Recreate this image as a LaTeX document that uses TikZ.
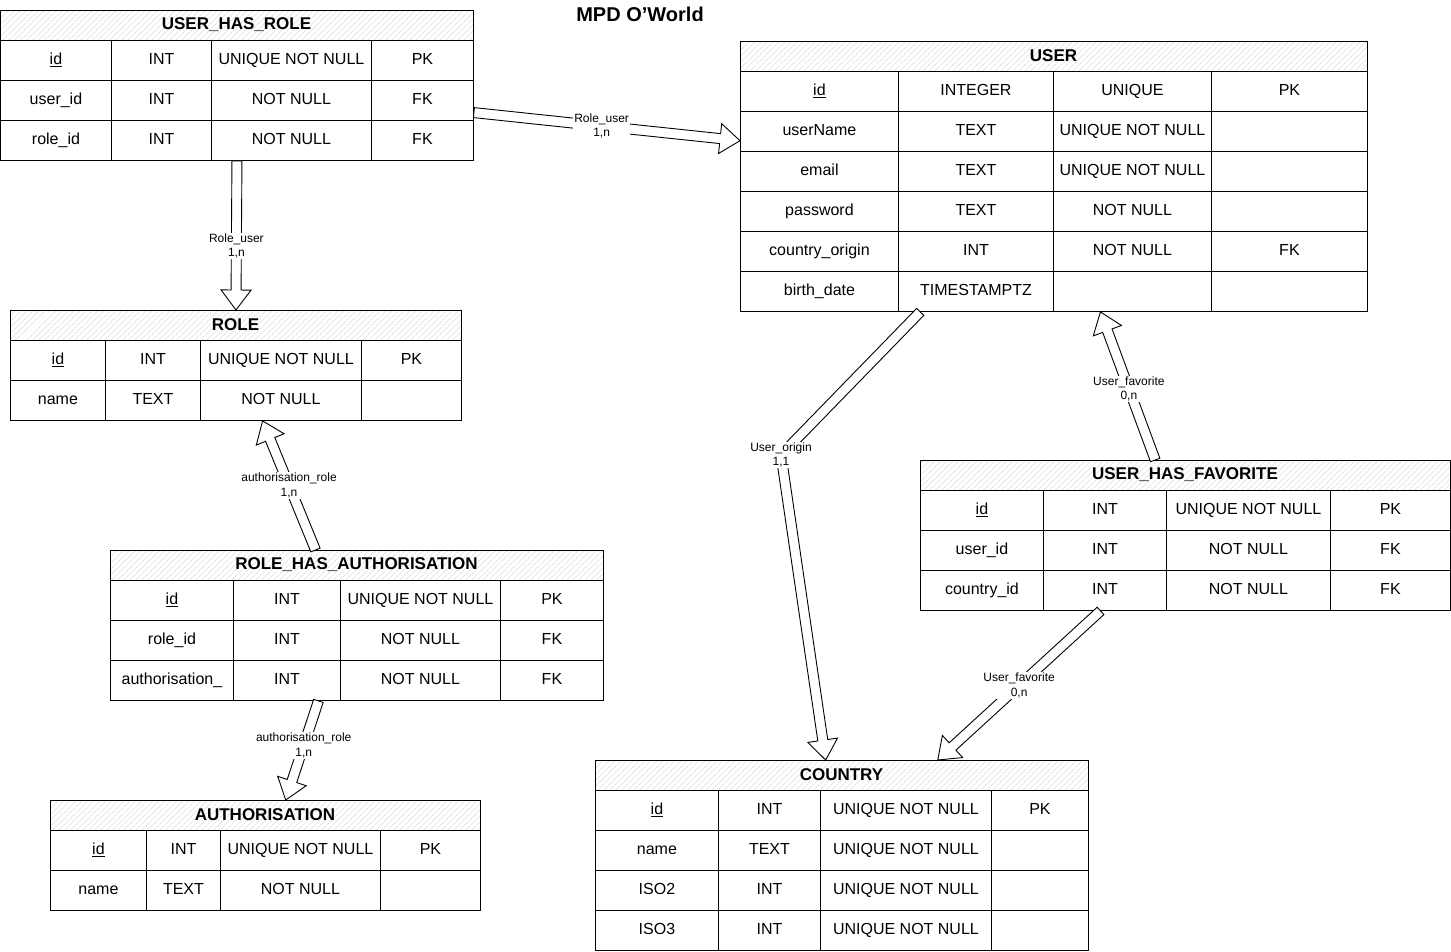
\documentclass[tikz,border=0pt]{standalone}
\usepackage{fontspec}
\setmainfont{Liberation Sans}
\usetikzlibrary{matrix,calc,fit,patterns.meta}
\newcommand\flexarr[2]{%
  \coordinate (fh) at ($(#2)!20pt!(#1)$);
  \draw[farrow] ($(#1)!5pt!90:(#2)$) -- ($(fh)!5pt!90:(#2)$) -- ($(fh)!15pt!90:(#2)$) -- (#2)
     -- ($(fh)!15pt!-90:(#2)$) -- ($(fh)!5pt!-90:(#2)$) -- ($(#1)!5pt!-90:(#2)$) -- cycle;}
\newcommand\flexshaft[2]{%
  \draw[farrow] ($(#1)!5pt!90:(#2)$) -- ($(#2)!5pt!-90:(#1)$) -- ($(#2)!5pt!90:(#1)$) -- ($(#1)!5pt!-90:(#2)$) -- cycle;}
\begin{document}
\begin{tikzpicture}[x=1pt,y=-1pt,
  cell/.style={draw, line width=0.9pt, anchor=center, minimum height=40, text height=12pt, text depth=3pt, inner sep=1pt, outer sep=0pt, font=\fontsize{16}{18}\selectfont},
  tbl/.style={matrix of nodes, nodes in empty cells, row sep=-0.9pt, column sep=-0.9pt, inner sep=0pt, outer sep=0pt, anchor=north west, nodes={cell}},
  cw/.style n args={4}{column 1/.style={nodes={minimum width=#1}}, column 2/.style={nodes={minimum width=#2}}, column 3/.style={nodes={minimum width=#3}}, column 4/.style={nodes={minimum width=#4}}},
  hdr/.style={draw, line width=0.9pt, anchor=south west, minimum height=30, inner sep=0pt, outer sep=0pt, font=\fontsize{17}{19}\selectfont\bfseries, pattern={Lines[angle=45,distance=4pt,line width=0.5pt]}, pattern color=black!18},
  farrow/.style={draw, fill=white, line width=0.9pt, line join=miter},
  lbl/.style={fill=white, font=\fontsize{12}{14.5}\selectfont, align=center, inner sep=1pt},
  tfit/.style={inner sep=0pt, outer sep=0pt}
]
\path[use as bounding box, fill=white] (0,0) rectangle (1451,951);

\node[font=\fontsize{20}{22}\selectfont\bfseries] (title) at (640,14) {MPD O'World};

% USER_HAS_ROLE
\matrix (uhr) [tbl, cw={111}{100}{160}{102}] at (0,40) {
  \underline{id} & INT & UNIQUE NOT NULL & PK \\
  user\_id & INT & NOT NULL & FK \\
  role\_id & INT & NOT NULL & FK \\
};
\node[hdr, minimum width=473] (uhr-h) at (uhr.north west) {USER\_HAS\_ROLE};
\node[tfit, fit=(uhr-h)(uhr)] (uhrT) {};

% USER
\matrix (user) [tbl, cw={158}{155}{158}{156}] at (740,71) {
  \underline{id} & INTEGER & UNIQUE & PK \\
  userName & TEXT & UNIQUE NOT NULL & \\
  email & TEXT & UNIQUE NOT NULL & \\
  password & TEXT & NOT NULL & \\
  country\_origin & INT & NOT NULL & FK \\
  birth\_date & TIMESTAMPTZ & & \\
};
\node[hdr, minimum width=627] (user-h) at (user.north west) {USER};
\node[tfit, fit=(user-h)(user)] (userT) {};

% ROLE
\matrix (role) [tbl, cw={95}{95}{161}{100}] at (10,340) {
  \underline{id} & INT & UNIQUE NOT NULL & PK \\
  name & TEXT & NOT NULL & \\
};
\node[hdr, minimum width=451] (role-h) at (role.north west) {ROLE};
\node[tfit, fit=(role-h)(role)] (roleT) {};

% ROLE_HAS_AUTHORISATION
\matrix (rha) [tbl, cw={123}{107}{160}{103}] at (110,580) {
  \underline{id} & INT & UNIQUE NOT NULL & PK \\
  role\_id & INT & NOT NULL & FK \\
  authorisation\_ & INT & NOT NULL & FK \\
};
\node[hdr, minimum width=493] (rha-h) at (rha.north west) {ROLE\_HAS\_AUTHORISATION};
\node[tfit, fit=(rha-h)(rha)] (rhaT) {};

% AUTHORISATION
\matrix (auth) [tbl, cw={96}{74}{160}{100}] at (50,830) {
  \underline{id} & INT & UNIQUE NOT NULL & PK \\
  name & TEXT & NOT NULL & \\
};
\node[hdr, minimum width=430] (auth-h) at (auth.north west) {AUTHORISATION};
\node[tfit, fit=(auth-h)(auth)] (authT) {};

% USER_HAS_FAVORITE
\matrix (uhf) [tbl, cw={123}{123}{164}{120}] at (920,490) {
  \underline{id} & INT & UNIQUE NOT NULL & PK \\
  user\_id & INT & NOT NULL & FK \\
  country\_id & INT & NOT NULL & FK \\
};
\node[hdr, minimum width=530] (uhf-h) at (uhf.north west) {USER\_HAS\_FAVORITE};
\node[tfit, fit=(uhf-h)(uhf)] (uhfT) {};

% COUNTRY
\matrix (cty) [tbl, cw={123}{102}{171}{97}] at (595,790) {
  \underline{id} & INT & UNIQUE NOT NULL & PK \\
  name & TEXT & UNIQUE NOT NULL & \\
  ISO2 & INT & UNIQUE NOT NULL & \\
  ISO3 & INT & UNIQUE NOT NULL & \\
};
\node[hdr, minimum width=493] (cty-h) at (cty.north west) {COUNTRY};
\node[tfit, fit=(cty-h)(cty)] (ctyT) {};

% connector end points
\coordinate (a1s) at ($(uhrT.north east)!0.68!(uhrT.south east)$);
\coordinate (a1e) at ($(userT.north west)!0.368!(userT.south west)$);
\coordinate (a2s) at (uhrT.south);
\coordinate (a2e) at (roleT.north);
\coordinate (a3s) at ($(rhaT.north west)!0.416!(rhaT.north east)$);
\coordinate (a3e) at ($(roleT.south west)!0.559!(roleT.south east)$);
\coordinate (a4s) at ($(rhaT.south west)!0.422!(rhaT.south east)$);
\coordinate (a4e) at ($(authT.north west)!0.547!(authT.north east)$);
\coordinate (a5s) at ($(userT.south west)!0.287!(userT.south east)$);
\coordinate (a5m) at (781,455);
\coordinate (a5e) at ($(ctyT.north west)!0.467!(ctyT.north east)$);
\coordinate (a6s) at ($(uhfT.north west)!0.443!(uhfT.north east)$);
\coordinate (a6e) at ($(userT.south west)!0.574!(userT.south east)$);
\coordinate (a7s) at ($(uhfT.south west)!0.34!(uhfT.south east)$);
\coordinate (a7e) at ($(ctyT.north west)!0.694!(ctyT.north east)$);

% connectors
\flexarr{a1s}{a1e}
\node[lbl] (l1) at ($(a1s)!0.48!(a1e)$) {Role\_user\\1,n};
\flexarr{a2s}{a2e}
\node[lbl] (l2) at ($(a2s)!0.57!(a2e)$) {Role\_user\\1,n};
\flexarr{a3s}{a3e}
\node[lbl] (l3) at ($(a3s)!0.5!(a3e)$) {authorisation\_role\\1,n};
\flexarr{a4s}{a4e}
\node[lbl] (l4) at ($(a4s)!0.45!(a4e)$) {authorisation\_role\\1,n};
\flexshaft{a5s}{a5m}
\flexarr{a5m}{a5e}
\node[lbl] (l5) at (a5m) {User\_origin\\1,1};
\flexarr{a6s}{a6e}
\node[lbl] (l6) at ($(a6s)!0.48!(a6e)$) {User\_favorite\\0,n};
\flexarr{a7s}{a7e}
\node[lbl] (l7) at ($(a7s)!0.5!(a7e)$) {User\_favorite\\0,n};
\end{tikzpicture}
\end{document}
